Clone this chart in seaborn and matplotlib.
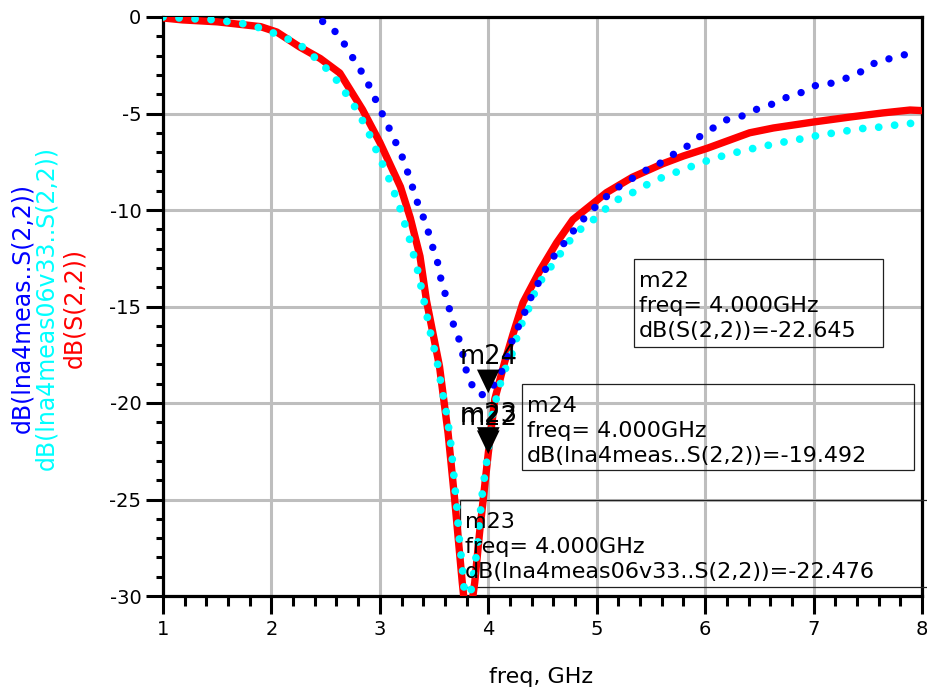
import numpy as np
import pandas as pd
import matplotlib
matplotlib.use("Agg")
import matplotlib.pyplot as plt
from matplotlib.path import Path
from matplotlib.patches import Rectangle
import seaborn as sns

# ---------------- data ----------------
red_freq = [1.0, 1.18, 1.5, 1.9, 2.05, 2.26, 2.45, 2.63, 2.84, 3.0, 3.19, 3.28, 3.37,
            3.43, 3.55, 3.63, 3.69, 3.76, 3.81, 3.875, 3.92, 4.0, 4.06, 4.15, 4.23,
            4.32, 4.48, 4.63, 4.78, 5.09, 5.33, 5.61, 5.8, 6.02, 6.41, 6.63, 7.0,
            7.34, 7.64, 7.89, 8.0]
red_db = [-0.05, -0.15, -0.25, -0.5, -0.78, -1.55, -2.15, -2.9, -4.8, -6.5, -8.8, -10.4,
          -12.4, -14.7, -18.1, -21.6, -25.0, -29.3, -32.0, -29.3, -26.7, -22.6, -19.8,
          -17.9, -16.4, -14.8, -13.1, -11.7, -10.5, -9.1, -8.3, -7.6, -7.2, -6.8,
          -6.0, -5.75, -5.44, -5.18, -4.97, -4.82, -4.85]

cyan_freq = [1.0, 1.31, 1.51, 1.61, 1.77, 1.91, 2.05, 2.19, 2.32, 2.43, 2.54, 2.63,
             2.72, 2.8, 2.87, 2.94, 2.99, 3.06, 3.11, 3.17, 3.21, 3.26, 3.3, 3.34,
             3.4, 3.46, 3.53, 3.58, 3.62, 3.65, 3.68, 3.71, 3.73, 3.76, 3.78, 3.82,
             3.85, 3.9, 3.92, 3.95, 4.0, 4.04, 4.1, 4.15, 4.2, 4.29, 4.36, 4.41, 4.48,
             4.57, 4.66, 4.75, 4.85, 4.97, 5.09, 5.21, 5.35, 5.49, 5.61, 5.76, 5.91,
             6.04, 6.19, 6.34, 6.5, 6.64, 6.79, 6.94, 7.09, 7.23, 7.38, 7.54, 7.69,
             7.83, 8.0]
cyan_db = [0.0, -0.1, -0.15, -0.25, -0.37, -0.59, -0.9, -1.23, -1.66, -2.27, -2.84,
           -3.48, -4.24, -4.92, -5.7, -6.5, -7.25, -8.0, -8.8, -9.6, -10.4, -11.2,
           -12.1, -12.9, -14.5, -16.2, -17.9, -19.5, -20.7, -21.9, -23.6, -25.4,
           -26.9, -28.5, -29.8, -30.4, -29.4, -27.5, -26.1, -24.4, -22.48, -20.5,
           -19.2, -18.3, -17.8, -16.1, -15.3, -14.5, -13.7, -13.0, -12.3, -11.6,
           -11.0, -10.5, -9.9, -9.4, -9.05, -8.6, -8.3, -7.98, -7.67, -7.4, -7.15,
           -6.94, -6.74, -6.58, -6.4, -6.27, -6.06, -6.0, -5.8, -5.75, -5.65, -5.54,
           -5.47]

blue_freq = [2.36, 2.51, 2.62, 2.7, 2.78, 2.86, 2.93, 2.99, 3.06, 3.12, 3.19, 3.24,
             3.29, 3.33, 3.39, 3.44, 3.48, 3.53, 3.56, 3.6, 3.64, 3.68, 3.73, 3.77,
             3.8, 3.86, 3.92, 4.0, 4.07, 4.14, 4.23, 4.29, 4.36, 4.41, 4.49, 4.56,
             4.65, 4.74, 4.84, 4.94, 5.05, 5.16, 5.29, 5.42, 5.56, 5.68, 5.81, 5.93,
             6.06, 6.19, 6.34, 6.48, 6.62, 6.76, 6.9, 7.03, 7.18, 7.33, 7.47, 7.59,
             7.74, 7.89, 7.95]
blue_db = [0.3, -0.41, -0.9, -1.66, -2.38, -3.1, -3.89, -4.66, -5.44, -6.2, -7.0,
           -7.77, -8.6, -9.38, -10.2, -11.0, -11.8, -12.65, -13.5, -14.3, -15.1,
           -15.96, -16.7, -17.6, -18.4, -19.2, -19.6, -19.49, -18.9, -18.2, -16.6,
           -15.9, -15.0, -14.3, -13.5, -12.7, -12.1, -11.4, -10.7, -10.1, -9.5,
           -8.96, -8.5, -8.03, -7.67, -7.2, -6.8, -6.27, -5.8, -5.34, -5.13, -4.77,
           -4.51, -4.14, -3.89, -3.52, -3.42, -3.11, -2.75, -2.28, -2.12, -1.87,
           -1.8]

marker_names = ["m22", "m23", "m24"]
marker_freq = [4.0, 4.0, 4.0]
marker_db = [-22.645, -22.476, -19.492]
marker_expr = ["dB(S(2,2))", "dB(lna4meas06v33..S(2,2))", "dB(lna4meas..S(2,2))"]

ylabel_texts = ["dB(lna4meas..S(2,2))", "dB(lna4meas06v33..S(2,2))", "dB(S(2,2))"]
x_ticks = [1, 2, 3, 4, 5, 6, 7, 8]
y_ticks = [-30, -25, -20, -15, -10, -5, 0]

# ---------------- style ----------------
sns.set_style("white")
plt.rcParams["font.family"] = ["DejaVu Sans"]
plt.rcParams["text.color"] = "black"
plt.rcParams["axes.labelcolor"] = "black"
plt.rcParams["xtick.color"] = "black"
plt.rcParams["ytick.color"] = "black"

W, H = 928, 692
fig = plt.figure(figsize=(W / 100, H / 100), dpi=100)
AX_L, AX_R, AX_T, AX_B = 163, 922, 17, 596
ax = fig.add_axes([AX_L / W, 1 - AX_B / H, (AX_R - AX_L) / W, (AX_B - AX_T) / H])


def fx(px):
    return (px - AX_L) / (AX_R - AX_L)


def fy(py):
    return (AX_B - py) / (AX_B - AX_T)


RED, CYAN, BLUE = "#FF0000", "#00FFFF", "#0000FF"

df_red = pd.DataFrame({"freq": red_freq, "db": red_db})
df_cyan = pd.DataFrame({"freq": cyan_freq, "db": cyan_db})
df_blue = pd.DataFrame({"freq": blue_freq, "db": blue_db})

sns.lineplot(data=df_red, x="freq", y="db", ax=ax, color=RED, linewidth=5.3,
             sort=False, estimator=None, zorder=3, solid_joinstyle="round")
sns.lineplot(data=df_cyan, x="freq", y="db", ax=ax, color=CYAN, linewidth=5.6,
             sort=False, estimator=None, zorder=4,
             linestyle=(0, (0.01, 2.05)), dash_capstyle="round")
sns.lineplot(data=df_blue, x="freq", y="db", ax=ax, color=BLUE, linewidth=5.3,
             sort=False, estimator=None, zorder=5,
             linestyle=(0, (0.01, 2.15)), dash_capstyle="round")

# markers: downward triangles with apex on the data point
tri = Path([(-0.48, 1.0), (0.48, 1.0), (0.0, 0.0), (-0.48, 1.0)],
           [Path.MOVETO, Path.LINETO, Path.LINETO, Path.CLOSEPOLY])
df_mk = pd.DataFrame({"freq": marker_freq, "db": marker_db})
sns.scatterplot(data=df_mk, x="freq", y="db", ax=ax, marker=tri, s=34 ** 2,
                color="black", edgecolor="none", linewidth=0, zorder=6)
for name, f, v in zip(marker_names, marker_freq, marker_db):
    ax.annotate(name, xy=(f, v), xytext=(0, 21), textcoords="offset points",
                ha="center", va="baseline", fontsize=18.5, color="black",
                zorder=7)

# axes styling
ax.set_xlim(1, 8)
ax.set_ylim(-30, 0)
ax.set_xticks(x_ticks)
ax.set_yticks(y_ticks)
ax.set_xticklabels([str(t) for t in x_ticks])
ax.set_yticklabels([str(t) for t in y_ticks])
ax.xaxis.set_minor_locator(matplotlib.ticker.MultipleLocator(0.2))
ax.yaxis.set_minor_locator(matplotlib.ticker.MultipleLocator(1))
ax.grid(True, which="major", color="#BEBEBE", linewidth=2.2, zorder=0)
ax.set_axisbelow(True)
for s in ax.spines.values():
    s.set_visible(True)
    s.set_color("black")
    s.set_linewidth(2.3)
    s.set_zorder(2.5)
ax.tick_params(axis="x", which="major", direction="out", length=13, width=2.2,
               labelsize=14, pad=4, bottom=True, colors="black")
ax.tick_params(axis="x", which="minor", direction="out", length=7.5, width=2.2,
               bottom=True)
ax.tick_params(axis="y", which="major", direction="out", length=12.5, width=2.2,
               labelsize=14, pad=3, left=True, colors="black")
ax.tick_params(axis="y", which="minor", direction="out", length=5, width=2.2,
               left=True)

ax.set_xlabel("freq, GHz", fontsize=16, va="baseline", color="black")
ax.xaxis.set_label_coords(fx(541), fy(683))
ax.set_ylabel("")

ylab_x = [22, 46, 74]
for txt, col, xp in zip(ylabel_texts, [BLUE, CYAN, RED], ylab_x):
    ax.text(fx(xp), fy(308), txt, rotation=90, ha="center", va="center",
            color=col, fontsize=17, transform=ax.transAxes, clip_on=False)

# marker readout boxes (unfilled)
boxes = {
    "m22": (634, 883, 259, 347),
    "m24": (522, 914, 384, 470),
    "m23": (460, 945, 500, 587),
}
for name, f, v, expr in zip(marker_names, marker_freq, marker_db, marker_expr):
    x0, x1, y0, y1 = boxes[name]
    rect = Rectangle((fx(x0), fy(y1)), fx(x1) - fx(x0), fy(y0) - fy(y1),
                     transform=ax.transAxes, fill=False, edgecolor="#202020",
                     linewidth=0.9, clip_on=False, zorder=2.6)
    ax.add_patch(rect)
    lines = [name, f"freq= {f:.3f}GHz", f"{expr}={v:.3f}"]
    for i, ln in enumerate(lines):
        ax.text(fx(x0 + 5), fy(y0 + 28 + 25 * i), ln, ha="left", va="baseline",
                fontsize=16, color="black", transform=ax.transAxes,
                clip_on=False, zorder=7)

fig.savefig("out.png", dpi=100)
